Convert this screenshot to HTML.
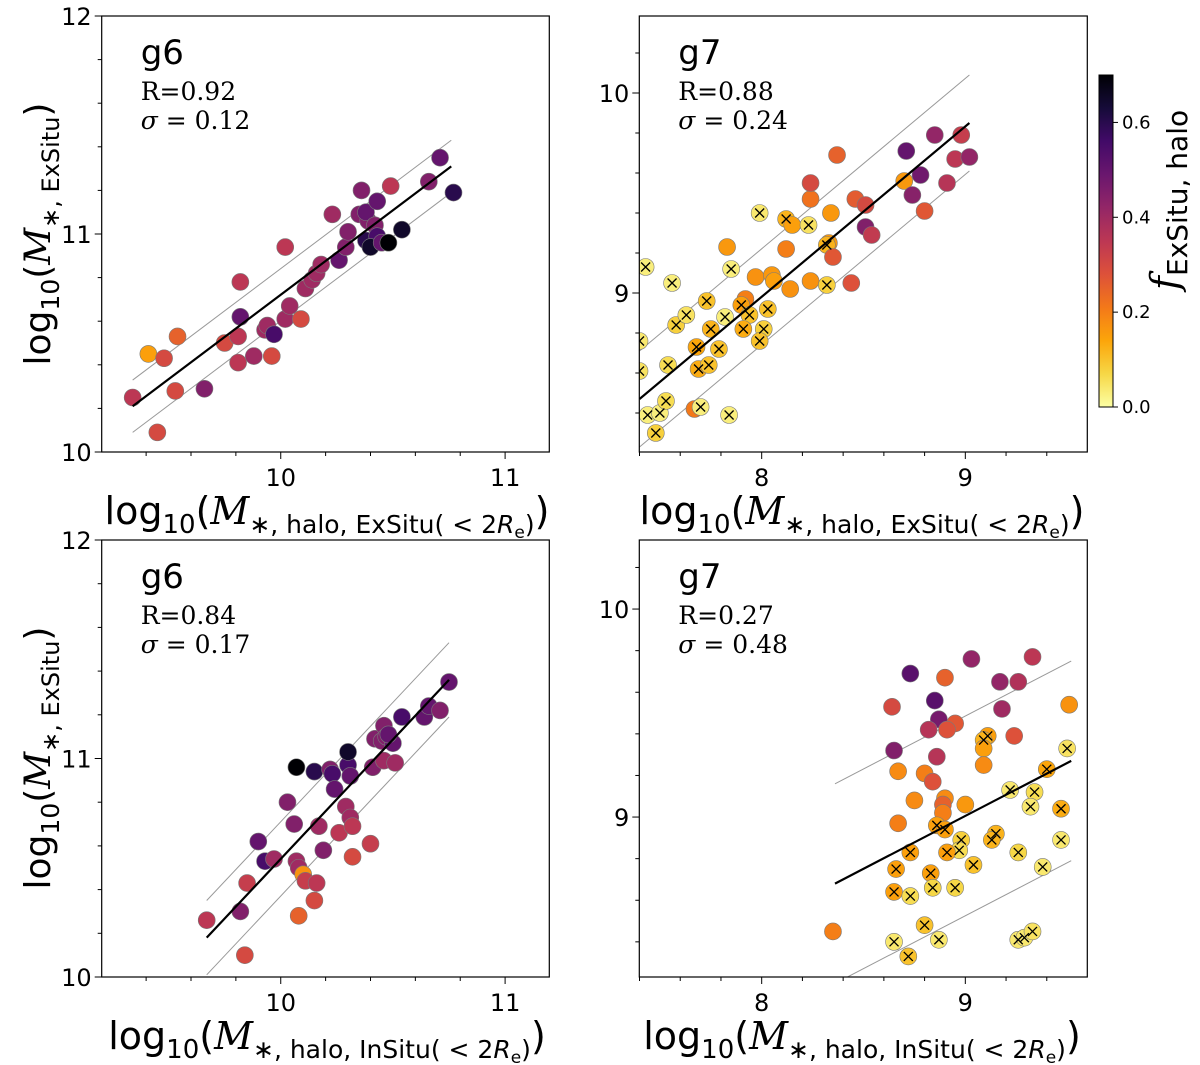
<!DOCTYPE html>
<html><head><meta charset="utf-8">
<style>
html,body{margin:0;padding:0;background:#fff;}
svg{display:block;font-family:"DejaVu Sans","Liberation Sans",sans-serif;}
</style></head>
<body>
<svg id="fig" width="1200" height="1065" viewBox="0 0 1200 1065" xmlns="http://www.w3.org/2000/svg">
<defs>
<linearGradient id="cbgrad" x1="0" y1="1" x2="0" y2="0">
</linearGradient>
</defs>
</svg>
<script>
// ---------- DATA ----------
const tlX=[9.34,9.41,9.48,9.45,9.54,9.53,9.66,9.75,9.82,9.81,9.81,9.82,9.88,9.93,9.94,9.97,9.96,10.02,10.04,10.02,10.09,10.11,10.14,10.16,10.18,10.23,10.26,10.29,10.30,10.35,10.36,10.39,10.38,10.38,10.43,10.42,10.43,10.40,10.45,10.48,10.49,10.54,10.71,10.66,10.77];
const tlY=[10.25,10.45,10.43,10.09,10.53,10.28,10.29,10.50,10.78,10.53,10.41,10.62,10.44,10.56,10.58,10.54,10.44,10.61,10.67,10.94,10.61,10.75,10.79,10.82,10.86,11.09,10.88,10.94,11.01,11.09,11.20,11.06,11.10,10.97,11.15,11.04,10.99,10.94,10.96,10.96,11.22,11.02,11.35,11.24,11.19];
const tlF=[0.35,0.15,0.3,0.3,0.25,0.3,0.45,0.3,0.35,0.35,0.35,0.5,0.4,0.4,0.4,0.55,0.3,0.4,0.4,0.35,0.3,0.4,0.4,0.4,0.4,0.4,0.5,0.45,0.45,0.45,0.45,0.45,0.5,0.6,0.5,0.45,0.55,0.65,0.5,0.7,0.35,0.65,0.5,0.45,0.6];
const tlFit=[[9.34,10.76],[10.21,11.31]];
const tlSigma=0.12;

const trX=[7.43,7.56,7.40,7.40,7.44,7.50,7.53,7.48,7.54,7.58,7.63,7.73,7.68,7.69,7.74,7.79,7.75,7.67,7.70,7.84,7.82,7.83,7.85,7.99,7.92,7.90,7.94,7.91,8.01,7.99,8.03,7.97,8.05,8.06,8.14,8.12,8.12,8.15,8.23,8.24,8.24,8.24,8.32,8.34,8.33,8.32,8.35,8.37,8.44,8.46,8.51,8.51,8.54,8.70,8.71,8.78,8.74,8.80,8.85,8.91,8.98,8.95,9.02];
const trY=[9.13,9.05,8.76,8.61,8.39,8.40,8.46,8.30,8.64,8.84,8.89,8.96,8.73,8.62,8.64,8.72,8.82,8.42,8.43,8.39,8.88,9.23,9.12,9.40,8.97,8.94,8.89,8.82,8.82,8.76,8.92,9.08,9.09,9.06,9.02,9.22,9.37,9.34,9.34,9.47,9.55,9.06,9.04,9.40,9.25,9.24,9.18,9.69,9.05,9.47,9.44,9.33,9.29,9.56,9.71,9.59,9.49,9.41,9.79,9.55,9.79,9.67,9.68];
const trF=[0.03,0.03,0.04,0.05,0.03,0.03,0.06,0.08,0.06,0.08,0.05,0.1,0.14,0.13,0.1,0.1,0.12,0.21,0.03,0.03,0.03,0.16,0.03,0.04,0.2,0.15,0.1,0.13,0.08,0.1,0.1,0.17,0.16,0.15,0.17,0.2,0.12,0.15,0.05,0.22,0.3,0.17,0.08,0.16,0.16,0.12,0.27,0.25,0.28,0.26,0.3,0.45,0.34,0.16,0.5,0.48,0.44,0.27,0.42,0.36,0.33,0.35,0.42];
const trCross=[1,1,1,1,1,1,1,1,1,1,1,1,1,1,1,1,1,0,1,1,1,0,1,1,0,1,1,1,1,1,1,0,0,0,0,0,1,0,1,0,0,0,1,0,0,1,0,0,0,0,0,0,0,0,0,0,0,0,0,0,0,0,0];
const trFit=[[7.40,9.02],[8.47,9.85]];
const trSigma=0.24;

const blX=[9.67,9.85,9.82,9.84,9.90,9.93,9.97,10.03,10.06,10.07,10.08,10.10,10.11,10.08,10.15,10.16,10.17,10.19,10.07,10.15,10.22,10.23,10.24,10.26,10.29,10.30,10.30,10.31,10.31,10.32,10.32,10.40,10.41,10.42,10.45,10.46,10.47,10.46,10.51,10.50,10.48,10.54,10.64,10.66,10.71,10.75];
const blY=[10.26,10.43,10.30,10.10,10.62,10.53,10.54,10.80,10.70,10.53,10.50,10.47,10.44,10.28,10.35,10.43,10.69,10.58,10.96,10.94,10.95,10.93,10.86,10.66,10.78,10.97,11.03,10.92,10.73,10.69,10.55,10.61,10.96,11.09,11.08,11.15,11.10,10.99,10.98,11.07,11.11,11.19,11.19,11.24,11.22,11.35];
const blF=[0.35,0.33,0.45,0.3,0.5,0.55,0.4,0.45,0.45,0.4,0.4,0.17,0.33,0.25,0.3,0.35,0.4,0.45,0.7,0.6,0.45,0.55,0.5,0.35,0.4,0.55,0.65,0.5,0.4,0.35,0.3,0.33,0.45,0.45,0.45,0.45,0.45,0.4,0.4,0.5,0.5,0.55,0.5,0.5,0.45,0.5];
const blFit=[[9.67,10.75],[10.18,11.36]];
const blSigma=0.17;

const brX=[9.03,9.33,8.73,8.90,9.17,9.26,8.85,8.64,9.18,8.87,8.95,8.91,8.82,9.11,9.09,9.09,9.24,8.65,8.86,8.67,8.80,8.84,9.09,8.75,8.90,8.89,9.00,8.89,8.67,8.86,8.90,8.98,8.97,8.91,9.15,9.13,9.26,9.22,9.34,9.32,9.40,9.47,9.47,9.38,9.50,9.51,8.73,8.66,8.83,8.65,8.73,8.84,8.95,9.04,8.80,8.65,8.87,8.72,9.26,9.29,9.33,8.35];
const brY=[9.76,9.77,9.69,9.67,9.65,9.65,9.56,9.53,9.52,9.47,9.45,9.42,9.42,9.39,9.37,9.33,9.39,9.32,9.29,9.22,9.21,9.17,9.25,9.08,9.09,9.06,9.06,9.02,8.97,8.96,8.94,8.89,8.84,8.83,8.92,8.89,8.83,9.13,9.12,9.05,9.23,9.04,8.89,8.76,9.33,9.54,8.83,8.75,8.73,8.64,8.62,8.66,8.66,8.77,8.48,8.40,8.41,8.33,8.41,8.42,8.45,8.45];
const brF=[0.42,0.35,0.52,0.25,0.42,0.37,0.52,0.3,0.4,0.47,0.27,0.28,0.36,0.15,0.12,0.15,0.28,0.45,0.36,0.18,0.2,0.28,0.18,0.18,0.18,0.25,0.16,0.2,0.2,0.15,0.15,0.08,0.06,0.15,0.12,0.12,0.07,0.04,0.06,0.04,0.14,0.13,0.04,0.04,0.05,0.17,0.15,0.15,0.15,0.15,0.06,0.07,0.07,0.1,0.1,0.04,0.04,0.1,0.04,0.04,0.05,0.2];
const brCross=[0,0,0,0,0,0,0,0,0,0,0,0,0,1,1,0,0,0,0,0,0,0,0,0,0,0,0,0,0,1,1,1,1,1,1,1,1,1,1,1,1,1,1,1,1,0,1,1,1,1,1,1,1,1,1,1,1,1,1,1,1,0];
const brFit=[[8.36,9.52],[8.68,9.27]];
const brSigma=0.48;

const cbTicks=[0.0,0.2,0.4,0.6];
const cbMax=0.7;

// ---------- RENDER ----------
const NS="http://www.w3.org/2000/svg";
const svg=document.getElementById('fig');
function mk(tag,attrs,parent){const e=document.createElementNS(NS,tag);for(const k in attrs)e.setAttribute(k,attrs[k]);(parent||svg).appendChild(e);return e;}

const inf=[[0,0,0,4],[0.1,22,11,57],[0.2,66,10,104],[0.3,106,23,110],[0.4,147,38,103],[0.5,188,55,84],[0.6,221,81,58],[0.7,243,120,25],[0.8,252,165,10],[0.9,246,215,70],[1.0,252,255,164]];
function inferno(t){t=Math.max(0,Math.min(1,t));for(let i=1;i<inf.length;i++){if(t<=inf[i][0]){const a=inf[i-1],b=inf[i];const u=(t-a[0])/(b[0]-a[0]);return `rgb(${Math.round(a[1]+u*(b[1]-a[1]))},${Math.round(a[2]+u*(b[2]-a[2]))},${Math.round(a[3]+u*(b[3]-a[3]))})`;}}return 'rgb(252,255,164)';}
function fcol(f){return inferno(1-f/cbMax);}

function panel(cfg){
  const {name,bx0,bx1,by0,by1,xmin,xmax,ymin,ymax,xt,yt,X,Y,F,C,fit,sig,gl,R}=cfg;
  const g=mk('g',{});
  
  
  const sx=v=>bx0+(v-xmin)/(xmax-xmin)*(bx1-bx0);
  const sy=v=>by1-(v-ymin)/(ymax-ymin)*(by1-by0);
  const clipId='clip-'+name;
  const cp=mk('clipPath',{id:clipId},g);mk('rect',{x:bx0,y:by0,width:bx1-bx0,height:by1-by0},cp);
  const plot=mk('g',{'clip-path':`url(#${clipId})`},g);
  [-1,1].forEach(s=>{const l=mk('line',{x1:sx(fit[0][0]),y1:sy(fit[1][0]+s*sig),x2:sx(fit[0][1]),y2:sy(fit[1][1]+s*sig),stroke:'#999','stroke-width':1},plot);
    
    });
  for(let i=0;i<X.length;i++){
    const c=mk('circle',{cx:sx(X[i]),cy:sy(Y[i]),r:8.5,fill:fcol(F[i]),stroke:'#7a7a7a','stroke-width':0.6},plot);
    
    
  }
  const fl=mk('line',{x1:sx(fit[0][0]),y1:sy(fit[1][0]),x2:sx(fit[0][1]),y2:sy(fit[1][1]),stroke:'#000','stroke-width':2.2},plot);
  
  
  if(C){for(let i=0;i<X.length;i++){if(!C[i])continue;const cx=sx(X[i]),cy=sy(Y[i]),d=4.5;
    const p=mk('path',{d:`M${cx-d},${cy-d}L${cx+d},${cy+d}M${cx-d},${cy+d}L${cx+d},${cy-d}`,stroke:'#000','stroke-width':1.3},plot);
    
    }}
  const fr=mk('rect',{x:bx0,y:by0,width:bx1-bx0,height:by1-by0,fill:'none',stroke:'#000','stroke-width':1.2},g);
  
  
  for(let v=Math.ceil(xmin*5)/5;v<=xmax+1e-9;v+=0.2){const vv=Math.round(v*5)/5;const major=Math.abs(vv-Math.round(vv))<1e-6;
    mk('line',{x1:sx(vv),y1:by1,x2:sx(vv),y2:by1+(major?7:4),stroke:'#000','stroke-width':1},g);}
  for(let v=Math.ceil(ymin*5)/5;v<=ymax+1e-9;v+=0.2){const vv=Math.round(v*5)/5;const major=Math.abs(vv-Math.round(vv))<1e-6;
    mk('line',{x1:bx0,y1:sy(vv),x2:bx0-(major?7:4),y2:sy(vv),stroke:'#000','stroke-width':1},g);}
  xt.forEach(v=>{const t=mk('text',{x:sx(v),y:by1+34,'text-anchor':'middle','font-size':24},g);t.textContent=v;
    
    });
  yt.forEach(v=>{const t=mk('text',{x:bx0-10,y:sy(v)+9,'text-anchor':'end','font-size':24},g);t.textContent=v;
    
    });
  const t1=mk('text',{x:bx0+39,y:by0+48,'font-size':34},g);t1.textContent=gl;
  
  
  const t2=mk('text',{x:bx0+39,y:by0+84,'font-size':25,'font-family':'DejaVu Serif, Liberation Serif, serif'},g);t2.textContent='R='+R[0];
  
  
  const t3=mk('text',{x:bx0+39,y:by0+113,'font-size':25,'font-family':'DejaVu Serif, Liberation Serif, serif'},g);
  t3.innerHTML='<tspan font-style="italic">σ</tspan> = '+R[1];
  
  
}

panel({name:'panel-g6-exsitu',bx0:101.7,bx1:549.3,by0:16,by1:452,xmin:9.202,xmax:11.197,ymin:10,ymax:12,xt:[10,11],yt:[10,11,12],X:tlX,Y:tlY,F:tlF,C:null,fit:tlFit,sig:tlSigma,gl:'g6',R:['0.92','0.12']});
panel({name:'panel-g7-exsitu',bx0:639.3,bx1:1087.3,by0:16,by1:452,xmin:7.399,xmax:9.599,ymin:8.205,ymax:10.385,xt:[8,9],yt:[9,10],X:trX,Y:trY,F:trF,C:trCross,fit:trFit,sig:trSigma,gl:'g7',R:['0.88','0.24']});
panel({name:'panel-g6-insitu',bx0:101.7,bx1:549.3,by0:540,by1:977,xmin:9.202,xmax:11.197,ymin:10,ymax:12,xt:[10,11],yt:[10,11,12],X:blX,Y:blY,F:blF,C:null,fit:blFit,sig:blSigma,gl:'g6',R:['0.84','0.17']});
panel({name:'panel-g7-insitu',bx0:639.3,bx1:1087.3,by0:540,by1:977,xmin:7.399,xmax:9.599,ymin:8.231,ymax:10.332,xt:[8,9],yt:[9,10],X:brX,Y:brY,F:brF,C:brCross,fit:brFit,sig:brSigma,gl:'g7',R:['0.27','0.48']});

function ylab(cx,cy){const t=mk('text',{transform:`translate(${cx},${cy}) rotate(-90)`,'text-anchor':'middle','font-size':36});
  t.innerHTML='log<tspan font-size="25" dy="9">10</tspan><tspan dy="-9">(</tspan><tspan font-style="italic" font-family="DejaVu Serif, serif">M</tspan><tspan font-size="24" dy="9">∗, ExSitu</tspan><tspan dy="-9">)</tspan>';
  
  }
function xlab(cx,cy,kind){const t=mk('text',{x:cx,y:cy,'text-anchor':'middle','font-size':38});
  t.innerHTML='log<tspan font-size="26" dy="9">10</tspan><tspan dy="-9">(</tspan><tspan font-style="italic" font-family="DejaVu Serif, serif">M</tspan><tspan font-size="25" dy="9">∗, halo, '+kind+'( &lt; 2<tspan font-style="italic">R</tspan><tspan font-size="17" dy="5">e</tspan><tspan dy="-5">)</tspan></tspan><tspan dy="-9">)</tspan>';
  
  }
ylab(50,234);ylab(50,758);
xlab(327,524,'ExSitu');xlab(862,524,'ExSitu');
xlab(327,1049,'InSitu');xlab(862,1049,'InSitu');

const grad=document.getElementById('cbgrad');
for(let i=0;i<=20;i++){mk('stop',{offset:(i/20),'stop-color':fcol(cbMax*i/20)},grad);}
const cbx=1099,cbw=14,cby0=75,cby1=407;
const cb=mk('rect',{x:cbx,y:cby0,width:cbw,height:cby1-cby0,fill:'url(#cbgrad)',stroke:'#000','stroke-width':1});


cbTicks.forEach(v=>{const y=cby1-v/cbMax*(cby1-cby0);
  mk('line',{x1:cbx+cbw,y1:y,x2:cbx+cbw+5,y2:y,stroke:'#000','stroke-width':1});
  const t=mk('text',{x:cbx+cbw+9,y:y+6,'font-size':18});t.textContent=v.toFixed(1);
  
  });
const cbl=mk('text',{transform:'translate(1178,200) rotate(-90)','text-anchor':'middle','font-size':38});
cbl.innerHTML='<tspan font-style="italic" font-family="DejaVu Serif, serif">f</tspan><tspan font-size="28" dy="9">ExSitu, halo</tspan>';


</script>
</body></html>
